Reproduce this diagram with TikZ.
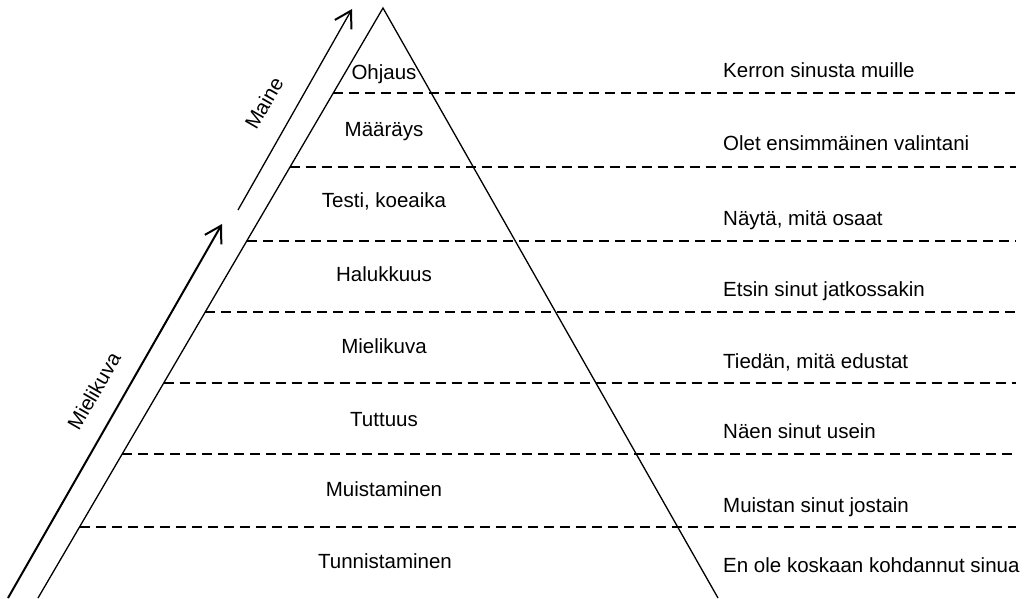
\documentclass[tikz,border=0pt]{standalone}
\usepackage{fontspec}
\setmainfont{Liberation Sans}
\usetikzlibrary{arrows.meta,calc}

\tikzset{
  label/.style={inner sep=0pt, font=\fontsize{20.5}{24}\selectfont},
  leftlabel/.style={label, anchor=base},
  rightlabel/.style={label, anchor=base west},
  side/.style={line width=1.3pt},
  level/.style={line width=2.8pt, dash pattern=on 10pt off 6pt},
  growth/.style={-{Straight Barb[length=16pt,width=19pt,line width=2pt]}},
}

\begin{document}
\begin{tikzpicture}[x=1pt, y=-1pt]
  \useasboundingbox (0,0) rectangle (1028,598);

  % pyramid
  \coordinate (apex) at (383,8);
  \coordinate (bl) at (38,598);
  \coordinate (br) at (718,598);
  \draw[side] (bl) -- (apex) -- (br);

  % dashed level separators, from the left side to the right margin
  \coordinate (rim) at (1016,0);
  \foreach \y [count=\i] in {93,167,241,312,383,454,527} {
    \coordinate (L\i) at ($(apex)!{(\y-8)/590}!(bl)$);
    \draw[level] (L\i) -- (L\i -| rim);
  }

  % stages inside the pyramid
  \node[leftlabel] (s1) at (384,79)  {Ohjaus};
  \node[leftlabel] (s2) at (384,136) {Määräys};
  \node[leftlabel] (s3) at (384,207) {Testi, koeaika};
  \node[leftlabel] (s4) at (384,281) {Halukkuus};
  \node[leftlabel] (s5) at (384,353) {Mielikuva};
  \node[leftlabel] (s6) at (384,426) {Tuttuus};
  \node[leftlabel] (s7) at (384,496) {Muistaminen};
  \node[leftlabel] (s8) at (385,568) {Tunnistaminen};

  % customer statements
  \node[rightlabel] (c1) at (723,77)  {Kerron sinusta muille};
  \node[rightlabel] (c2) at (723,150) {Olet ensimmäinen valintani};
  \node[rightlabel] (c3) at (723,225) {Näytä, mitä osaat};
  \node[rightlabel] (c4) at (723,296) {Etsin sinut jatkossakin};
  \node[rightlabel] (c5) at (723,368) {Tiedän, mitä edustat};
  \node[rightlabel] (c6) at (723,438) {Näen sinut usein};
  \node[rightlabel] (c7) at (723,512) {Muistan sinut jostain};
  \node[rightlabel] (c8) at (723,572) {En ole koskaan kohdannut sinua};

  % growth arrows along the left side
  \coordinate (a1s) at (8,598);
  \coordinate (a1e) at (222,224);
  \coordinate (a2s) at (238,210);
  \coordinate (a2e) at (352,9);
  \draw[growth, line width=2pt] (a1s) -- (a1e);
  \draw[growth, line width=1.3pt] (a2s) -- (a2e);

  \node[label, rotate=60] (mielikuva) at (94,391) {Mielikuva};
  \node[label, rotate=60] (maine) at (264,103) {Maine};
\end{tikzpicture}
\end{document}
